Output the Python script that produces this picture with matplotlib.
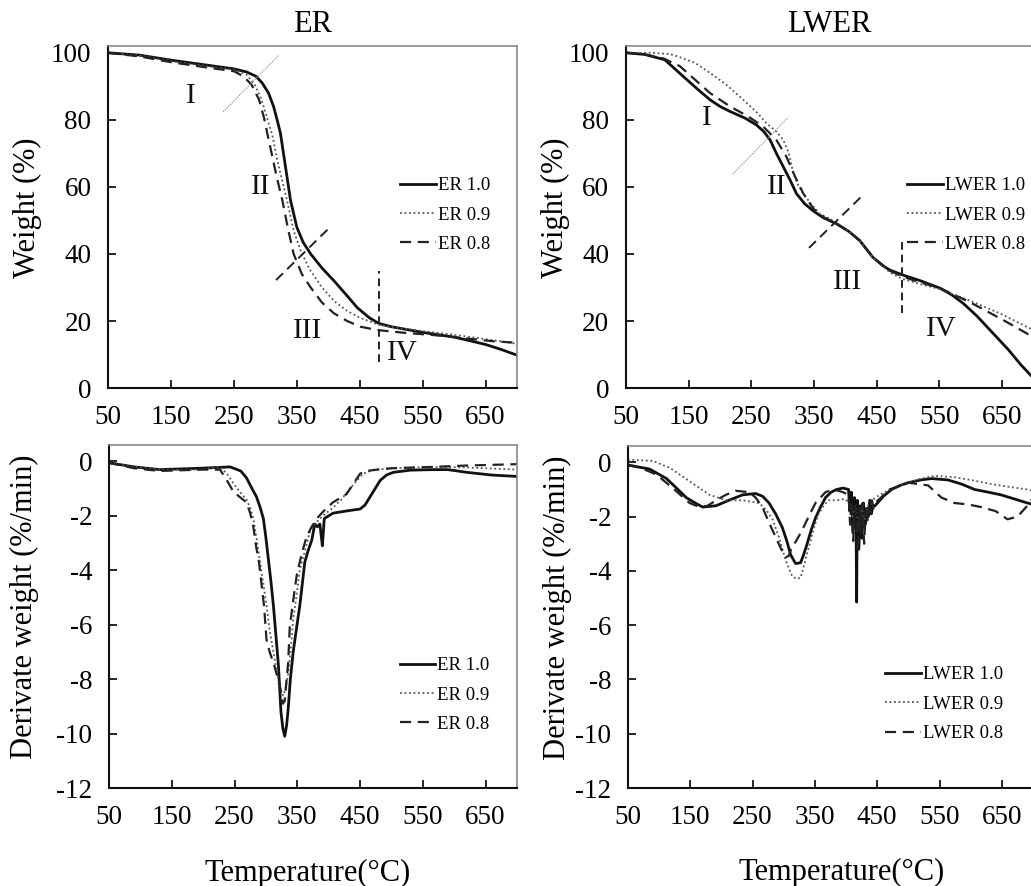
import matplotlib.pyplot as plt

plt.rcParams['font.family'] = ['Liberation Serif', 'DejaVu Serif']
plt.rcParams['axes.unicode_minus'] = False

# ---- ER weight loss ----
er_w10_T = [50, 100, 150, 200, 250, 270, 285, 295, 305, 313, 318, 324, 332, 340, 350, 360, 372, 390,
            409, 430, 446, 465, 480, 500, 515, 550, 600, 621, 650, 675, 700]
er_w10 = [100, 99.3, 97.8, 96.5, 95.2, 94.3, 93.0, 91.0, 88.0, 84.0, 80.5, 76.0, 66.0, 56.0, 48.0, 43.5,
          40.0, 35.8, 32.0, 27.5, 24.0, 21.0, 19.3, 18.3, 17.8, 16.6, 15.2, 14.3, 13.0, 11.5, 9.8]
er_w09_T = [50, 100, 150, 200, 250, 270, 283, 293, 302, 311, 320, 328, 335, 345, 356, 370, 390, 409,
            430, 450, 478, 500, 550, 600, 650, 700]
er_w09 = [100, 99.2, 97.5, 96.2, 95.0, 93.5, 90.5, 86.5, 81.0, 75.5, 67.0, 61.0, 55.5, 47.0, 41.0, 35.5,
          30.0, 26.0, 23.0, 21.0, 19.0, 18.2, 17.0, 15.9, 14.6, 13.2]
er_w08_T = [50, 100, 150, 200, 250, 265, 278, 290, 298, 303, 310, 318, 327, 336, 345, 358, 372, 390,
            409, 430, 451, 478, 520, 568, 620, 660, 700]
er_w08 = [100, 98.9, 97.2, 95.8, 94.5, 93.0, 90.5, 86.0, 80.5, 76.0, 70.0, 63.0, 56.0, 47.5, 40.0, 34.0,
          30.0, 25.5, 22.3, 20.0, 18.3, 17.3, 16.5, 15.8, 14.8, 14.0, 13.5]

# ---- LWER weight loss ----
lw_w10_T = [50, 80, 112, 141, 165, 184, 200, 216, 240, 258, 270, 280, 290, 301, 312, 322, 335, 349, 365,
            386, 405, 423, 444, 460, 471, 492, 520, 551, 570, 588, 610, 636, 660, 680, 700]
lw_w10 = [100, 99.5, 97.9, 93.0, 89.0, 86.0, 84.0, 82.5, 80.5, 78.5, 76.5, 74.0, 70.0, 66.0, 62.0, 58.0,
          55.0, 52.8, 50.8, 49.0, 46.8, 44.0, 39.0, 36.5, 35.2, 33.7, 32.0, 29.8, 27.8, 25.3, 21.5, 16.3,
          11.5, 7.0, 3.0]
lw_w09_T = [50, 90, 120, 131, 160, 184, 210, 237, 260, 274, 290, 301, 310, 317, 325, 333, 345, 359, 380,
            400, 423, 444, 471, 492, 520, 551, 600, 650, 700]
lw_w09 = [100, 100, 99.6, 99.0, 97.0, 94.0, 90.5, 86.0, 82.0, 79.0, 76.5, 74.0, 70.0, 64.0, 60.5, 58.0,
          55.0, 52.0, 50.0, 47.5, 44.0, 39.0, 34.5, 32.5, 31.0, 29.5, 26.0, 22.0, 17.3]
lw_w08_T = [50, 80, 110, 136, 160, 184, 216, 245, 269, 290, 306, 320, 333, 349, 365, 386, 405, 423, 444,
            471, 492, 520, 551, 600, 650, 700]
lw_w08 = [100, 99.5, 98.3, 96.0, 92.0, 88.0, 84.0, 81.0, 78.0, 74.0, 69.0, 63.0, 58.0, 53.5, 51.0, 49.0,
          46.8, 44.0, 39.0, 35.0, 33.2, 31.5, 29.8, 25.5, 20.5, 15.2]

# ---- ER derivative ----
er_d10_T = [50, 90, 131, 195, 243, 260, 269, 278, 285, 291, 296, 300, 304, 308, 312, 316, 320, 324, 327,
            330, 333, 335.5, 339, 343.5, 349, 354, 358, 362, 367, 373, 378, 382, 386, 388, 390, 393, 400,
            407, 420, 434, 450, 458, 466, 474, 482, 492, 503, 530, 566, 590, 620, 660, 700]
er_d10 = [-0.05, -0.2, -0.3, -0.25, -0.2, -0.35, -0.6, -1.0, -1.3, -1.7, -2.1, -2.8, -3.6, -4.4, -5.3,
          -6.4, -7.5, -9.2, -9.8, -10.1, -9.7, -9.1, -8.0, -7.0, -6.1, -5.3, -4.5, -3.7, -3.3, -2.9, -2.3,
          -2.4, -2.3, -2.7, -3.1, -2.1, -2.0, -1.9, -1.85, -1.8, -1.75, -1.6, -1.3, -1.0, -0.7, -0.5, -0.4,
          -0.32, -0.3, -0.3, -0.4, -0.5, -0.55]
er_d09_T = [50, 90, 131, 195, 227, 238, 248, 258, 269, 275, 280, 285, 290, 296, 301, 306, 312, 317, 322,
            327.5, 331, 335.5, 340, 343.5, 349, 354, 362, 370, 378, 386, 396, 407, 420, 434, 445, 455,
            466, 477, 500, 566, 620, 700]
er_d09 = [-0.05, -0.2, -0.3, -0.3, -0.2, -0.45, -0.8, -1.1, -1.4, -1.7, -2.1, -2.8, -3.6, -4.5, -5.3,
          -6.2, -7.0, -7.7, -8.3, -8.6, -8.4, -7.8, -6.8, -5.8, -4.9, -4.0, -3.3, -2.6, -2.3, -2.1, -1.9,
          -1.7, -1.4, -1.0, -0.7, -0.45, -0.35, -0.3, -0.25, -0.2, -0.22, -0.3]
er_d08_T = [50, 90, 131, 195, 227, 238, 248, 258, 269, 275, 280, 285, 289, 293, 297, 301, 306, 312, 317,
            322, 327, 330, 333, 335.5, 338, 343, 349, 357, 365, 373, 381, 393, 407, 418, 428.5, 440, 450,
            460, 477, 500, 566, 620, 700]
er_d08 = [-0.05, -0.25, -0.35, -0.3, -0.3, -0.7, -1.1, -1.3, -1.5, -1.9, -2.4, -3.2, -3.7, -4.5, -5.3,
          -6.55, -7.0, -7.4, -7.8, -8.2, -8.9, -8.8, -8.0, -7.4, -6.1, -5.2, -4.2, -3.4, -2.75, -2.4, -2.1,
          -1.8, -1.5, -1.35, -1.2, -0.8, -0.45, -0.35, -0.3, -0.25, -0.2, -0.15, -0.1]

# ---- LWER derivative ----
lw_d10_T = ([50, 85, 112, 128, 143.6, 158, 170, 191.5, 212, 234, 255, 266, 276.5, 287, 297.7, 305, 311,
             319, 327, 332, 337.6, 344, 351, 359, 367, 376, 385, 395, 404]
            + [406, 408.5, 411, 413.5, 416, 417, 418, 420.5, 423, 425.5, 428, 430.5, 433, 435.5, 438, 440.5, 443]
            + [446.6, 460, 473, 487, 500, 520, 537, 563.5, 585, 606, 628, 648.6, 670, 691, 700])
lw_d10 = ([-0.1, -0.25, -0.6, -0.95, -1.3, -1.5, -1.65, -1.6, -1.4, -1.2, -1.15, -1.25, -1.5, -1.9, -2.4,
           -2.9, -3.4, -3.73, -3.7, -3.4, -3.0, -2.5, -2.05, -1.65, -1.3, -1.1, -1.0, -0.95, -1.0]
          + [-1.8, -1.1, -2.6, -1.3, -2.2, -5.15, -1.4, -3.2, -1.6, -2.8, -1.5, -2.3, -1.7, -2.0, -1.4, -1.9, -1.6]
          + [-1.6, -1.25, -1.0, -0.85, -0.75, -0.65, -0.6, -0.65, -0.8, -1.0, -1.1, -1.2, -1.35, -1.5, -1.55])
lw_d09_T = ([50, 90, 117, 149, 165, 181, 207, 234, 260.5, 272, 282, 293, 303, 313.6, 321, 327, 332, 337,
             343, 350, 356, 364, 372, 385, 398]
            + [405, 410, 415, 420, 425, 430, 435, 440]
            + [446.6, 470, 500, 520, 542, 574, 600, 632.6, 660, 691, 700])
lw_d09 = ([0.1, 0.05, -0.2, -0.7, -0.95, -1.2, -1.4, -1.4, -1.5, -1.75, -2.1, -2.8, -3.6, -4.2, -4.3,
           -4.25, -3.85, -3.4, -2.9, -2.3, -1.9, -1.6, -1.4, -1.4, -1.35]
          + [-1.5, -2.0, -1.6, -2.3, -1.7, -2.1, -1.6, -1.5]
          + [-1.3, -1.0, -0.75, -0.6, -0.5, -0.55, -0.65, -0.8, -0.9, -1.0, -1.05])
lw_d08_T = ([50, 70, 95.7, 122, 149, 165, 178, 191.5, 207, 223, 244.6, 255, 265.8, 276, 287, 296, 303,
             308, 313.6, 320, 329.6, 340, 351, 367, 380, 395]
            + [404, 406.5, 409, 411.5, 414, 416.5, 419, 421.5, 424, 426.5, 429, 431.5, 434, 436.5, 439, 441.5, 444]
            + [446.6, 470, 500, 515, 531.6, 553, 574, 595, 616.7, 640, 659, 675, 691, 700])
lw_d08 = ([-0.1, -0.2, -0.45, -0.95, -1.5, -1.65, -1.6, -1.4, -1.2, -1.05, -1.1, -1.3, -1.65, -2.2, -2.75,
           -3.2, -3.5, -3.45, -3.1, -2.9, -2.5, -2.0, -1.5, -1.1, -1.0, -1.1]
          + [-1.2, -2.3, -1.4, -2.9, -1.6, -2.0, -3.3, -1.7, -2.6, -1.5, -3.0, -1.8, -2.2, -1.6, -1.9, -1.4, -1.7]
          + [-1.5, -1.0, -0.75, -0.8, -0.85, -1.3, -1.5, -1.55, -1.65, -1.8, -2.1, -2.0, -1.6, -1.3])

# stage labels and boundary marks (data coords)
stages = ['I', 'II', 'III', 'IV']
er_stage_xy = [(181, 87), (292, 60), (367, 17), (518, 10.5)]
lw_stage_xy = [(179, 80.5), (291, 60), (404, 31.5), (554, 17.5)]
er_marks = {'dot': ([233, 322], [82.4, 99.4]), 'dash': ([317, 405], [32.2, 48.4]), 'vert': ([480, 480], [7.8, 35])}
lw_marks = {'dot': ([221, 308], [63.9, 80.6]), 'dash': ([342, 430], [41.8, 57.9]), 'vert': ([490, 490], [22.4, 43.6])}

xticks = [50, 150, 250, 350, 450, 550, 650]

SOLID = dict(color='#111111', lw=2.0, ls='-')
DOT = dict(color='#555555', lw=1.3, ls=(0, (1, 1.5)))
DASH = dict(color='#222222', lw=1.6, ls=(0, (5, 3)))

fig = plt.figure(figsize=(10.31, 8.86), dpi=100)
ax_tl = fig.add_axes([0.1048, 0.562, 0.3967, 0.386])
ax_tr = fig.add_axes([0.6072, 0.562, 0.395, 0.386])
ax_bl = fig.add_axes([0.1057, 0.1106, 0.3957, 0.387])
ax_br = fig.add_axes([0.609, 0.1106, 0.393, 0.386])


def style(ax, ylim, yticks):
    ax.set_xlim(50, 700)
    ax.set_ylim(*ylim)
    ax.set_xticks(xticks)
    ax.set_yticks(yticks)
    ax.tick_params(direction='in', length=6, width=1.2, labelsize=19.5, pad=12, top=False, right=False)
    for s in ['left', 'bottom']:
        ax.spines[s].set_linewidth(1.5)
        ax.spines[s].set_color('#111111')
    for s in ['top', 'right']:
        ax.spines[s].set_linewidth(1.2)
        ax.spines[s].set_color('#888888')


def legend(ax, names, x, y):
    ax.legend(names, loc='center left', bbox_to_anchor=(x, y), frameon=False, fontsize=13.5,
              handlelength=1.9, handletextpad=0.1, labelspacing=0.65, borderpad=0, borderaxespad=0)


# top left: ER weight
ax_tl.plot(er_w10_T, er_w10, **SOLID)
ax_tl.plot(er_w09_T, er_w09, **DOT)
ax_tl.plot(er_w08_T, er_w08, **DASH)
style(ax_tl, (0, 102), [0, 20, 40, 60, 80, 100])
legend(ax_tl, ['ER 1.0', 'ER 0.9', 'ER 0.8'], 0.714, 0.506)
ax_tl.set_title('ER', fontsize=22, pad=10)

# top right: LWER weight
ax_tr.plot(lw_w10_T, lw_w10, **SOLID)
ax_tr.plot(lw_w09_T, lw_w09, **DOT)
ax_tr.plot(lw_w08_T, lw_w08, **DASH)
style(ax_tr, (0, 102), [0, 20, 40, 60, 80, 100])
legend(ax_tr, ['LWER 1.0', 'LWER 0.9', 'LWER 0.8'], 0.690, 0.506)
ax_tr.set_title('LWER', fontsize=22, pad=10)

for ax, pts, marks in [(ax_tl, er_stage_xy, er_marks), (ax_tr, lw_stage_xy, lw_marks)]:
    for s, (x, y) in zip(stages, pts):
        ax.text(x, y, s, fontsize=21, ha='center', va='center', color='#111111')
    ax.plot(*marks['dot'], color='#999999', lw=0.9, ls=(0, (1, 1)))
    ax.plot(*marks['dash'], color='#222222', lw=1.4, ls=(0, (5, 3)))
    ax.plot(*marks['vert'], color='#222222', lw=1.4, ls=(0, (4, 2.5)))
    ax.set_ylabel('Weight (%)', fontsize=22, va='center')

ax_tl.yaxis.set_label_coords(-0.198, 0.526)
ax_tr.yaxis.set_label_coords(-0.174, 0.526)

# bottom left: ER derivative
ax_bl.plot(er_d10_T, er_d10, **SOLID)
ax_bl.plot(er_d09_T, er_d09, **DOT)
ax_bl.plot(er_d08_T, er_d08, **DASH)
style(ax_bl, (-12, 0.6), [-12, -10, -8, -6, -4, -2, 0])
legend(ax_bl, ['ER 1.0', 'ER 0.9', 'ER 0.8'], 0.713, 0.271)

# bottom right: LWER derivative
ax_br.plot(lw_d10_T, lw_d10, **SOLID)
ax_br.plot(lw_d09_T, lw_d09, **DOT)
ax_br.plot(lw_d08_T, lw_d08, **DASH)
style(ax_br, (-12, 0.6), [-12, -10, -8, -6, -4, -2, 0])
legend(ax_br, ['LWER 1.0', 'LWER 0.9', 'LWER 0.8'], 0.635, 0.245)

for ax, lx, xx in [(ax_bl, -0.208, 0.488), (ax_br, -0.173, 0.528)]:
    ax.set_ylabel('Derivate weight (%/min)', fontsize=22, va='center')
    ax.yaxis.set_label_coords(lx, 0.528)
    ax.set_xlabel('Temperature(\u00b0C)', fontsize=22, va='center')
    ax.xaxis.set_label_coords(xx, -0.248)

fig.savefig('out.png', dpi=100)
